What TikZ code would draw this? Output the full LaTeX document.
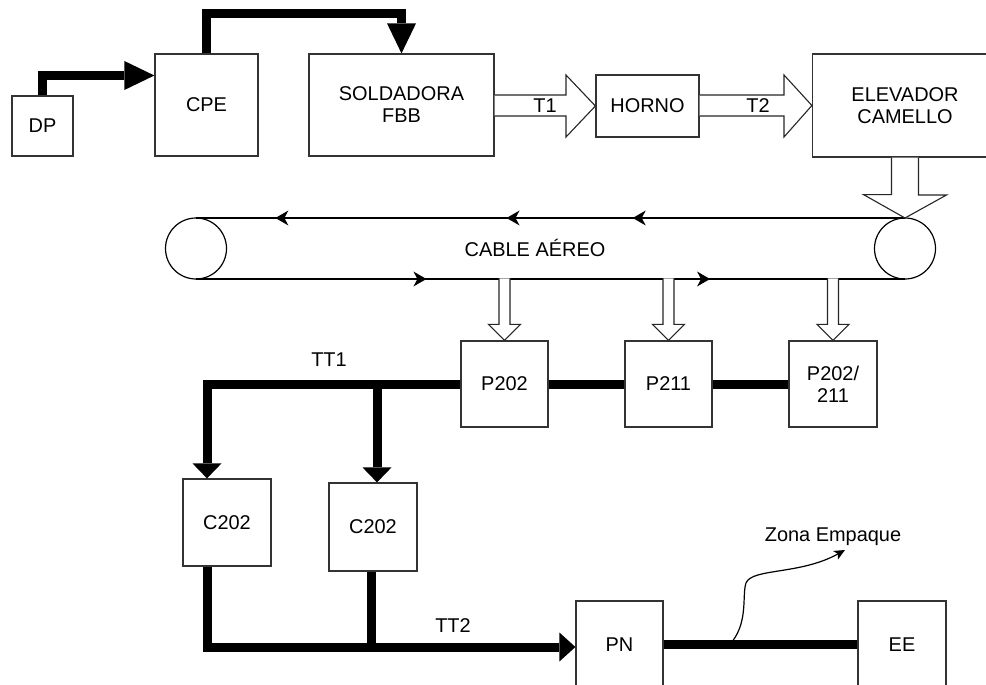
\documentclass[tikz,border=0pt]{standalone}
\usepackage{fontspec}
\setmainfont{Liberation Sans}
\usetikzlibrary{arrows.meta,calc,decorations.markings}
\newcommand\lblfont{\fontsize{20}{22}\selectfont}
\tikzset{
  bigtip/.tip={Triangle[length=30bp,width=29bp,line width=0pt]},
  ttip/.tip={Triangle[length=15bp,width=29bp,line width=0pt]},
  ttwotip/.tip={Triangle[length=16bp,width=29bp,line width=0pt]},
  cabtip/.tip={Stealth[length=13bp,width=15bp,inset=4bp,line width=0pt]},
  zonatip/.tip={Stealth[length=11bp,width=10bp,inset=3bp,line width=0pt]},
}
\begin{document}
\begin{tikzpicture}[x=1bp,y=-1bp,
  box/.style={draw=black!80, line width=1.2bp, fill=white, inner sep=0pt, align=center, font=\lblfont},
  lbl/.style={inner sep=0pt, font=\lblfont},
  flow/.style={draw=black, line width=9bp, line join=miter},
  hollow/.style={draw=black!85, line width=1.1bp, fill=white, line join=miter},
  cable/.style={draw=black, line width=1.2bp},
  wheel/.style={draw=black, line width=1.2bp, circle, minimum size=61bp, inner sep=0pt, outer sep=0pt}]
\useasboundingbox (0,0) rectangle (986,685);

% boxes
\node[box, minimum width=61bp, minimum height=60bp] (DP) at (42.5,126) {DP};
\node[box, minimum width=103bp, minimum height=102bp] (CPE) at (206.5,105) {CPE};
\node[box, minimum width=185bp, minimum height=102bp] (SOLD) at (401.5,105) {SOLDADORA\\FBB};
\node[box, minimum width=103bp, minimum height=62bp] (HORNO) at (647.5,106) {HORNO};
\node[box, minimum width=185bp, minimum height=103bp] (ELEV) at (905,105.5) {ELEVADOR\\CAMELLO};
\node[box, minimum width=87bp, minimum height=86bp] (P1) at (504.5,384) {P202};
\node[box, minimum width=87bp, minimum height=86bp] (P2) at (668.5,384) {P211};
\node[box, minimum width=88bp, minimum height=86bp] (P3) at (833,384) {P202/\\211};
\node[box, minimum width=88bp, minimum height=87bp] (C1) at (227,522.5) {C202};
\node[box, minimum width=88bp, minimum height=88bp] (C2) at (373,527) {C202};
\node[box, minimum width=87bp, minimum height=87bp] (PN) at (619.5,644.5) {PN};
\node[box, minimum width=88bp, minimum height=87bp] (EE) at (902,644.5) {EE};

% cable
\node[wheel] (L) at (196,248.5) {};
\node[wheel] (R) at (905,248.5) {};
\draw[cable, postaction={decorate}, decoration={markings,
   mark=at position 0.384 with {\arrow{cabtip}},
   mark=at position 0.562 with {\arrow{cabtip}},
   mark=at position 0.888 with {\arrow{cabtip}}}] (R.north) -- (L.north);
\draw[cable, postaction={decorate}, decoration={markings,
   mark=at position 0.325 with {\arrow{cabtip}},
   mark=at position 0.725 with {\arrow{cabtip}}}] (L.south) -- (R.south);
\node[lbl] (cab) at (535,248) {CABLE AÉREO};

% thick flows
\draw[flow, -{bigtip}] (DP.north) |- ([yshift=29.5bp]CPE.west);
\draw[flow, -{bigtip}] (CPE.north) -- ++(0,-40) -| (SOLD.north);
\draw[flow] (P1.east) -- (P2.west);
\draw[flow] (P2.east) -- (P3.west);
\draw[flow, -{ttip}] (P1.west) -| (C1.north -| 207,0);
\coordinate (j1) at (377,384);
\draw[flow, -{ttip}] (j1) -- (C2.north -| j1);
\draw[flow, -{ttwotip}] (C1.south -| 207,0) |- ([yshift=-2.5bp]PN.west);
\coordinate (j2) at (371,651.5);
\draw[flow] (C2.south -| j2) -- (j2);
\draw[flow] (PN.east) -- (EE.west);
\node[lbl] (tt1) at (329,360) {TT1};
\node[lbl] (tt2) at (453,625.5) {TT2};

% hollow arrows
\draw[hollow] (SOLD.east |- 0,95) -- (566,95) -- (566,75) -- (HORNO.west) -- (566,137) -- (566,116) -- (SOLD.east |- 0,116);
\draw[hollow] (HORNO.east |- 0,95) -- (784,95) -- (784,75) -- (ELEV.west) -- (784,137) -- (784,116) -- (HORNO.east |- 0,116);
\node[lbl] (t1) at (545,106) {T1};
\node[lbl] (t2) at (758,106) {T2};
\draw[hollow] ([xshift=-13.5bp]ELEV.south) -- ++(0,37) -- ++(-28,0) -- (R.north) -- ++(41.5,-23) -- ++(-28,0) -- ([xshift=13.5bp]ELEV.south);
\foreach \p in {P1,P2,P3} {
  \draw[hollow] ($(\p.north)+(-5.5,-62)$) -- ++(0,46) -- ++(-10.5,0) -- (\p.north) -- ++(16,-16) -- ++(-10.5,0) -- ++(0,-46);
}

% zona empaque
\node[lbl, anchor=base] (zona) at (833,541) {Zona Empaque};
\coordinate (zs) at (733,640.5);
\coordinate (zt) at (845,550);
\draw[line width=1.2bp, -{zonatip}] (zs) .. controls (748,620) and (742,595) .. (746,583) .. controls (752,568) and (800,575) .. (zt);
\end{tikzpicture}
\end{document}
